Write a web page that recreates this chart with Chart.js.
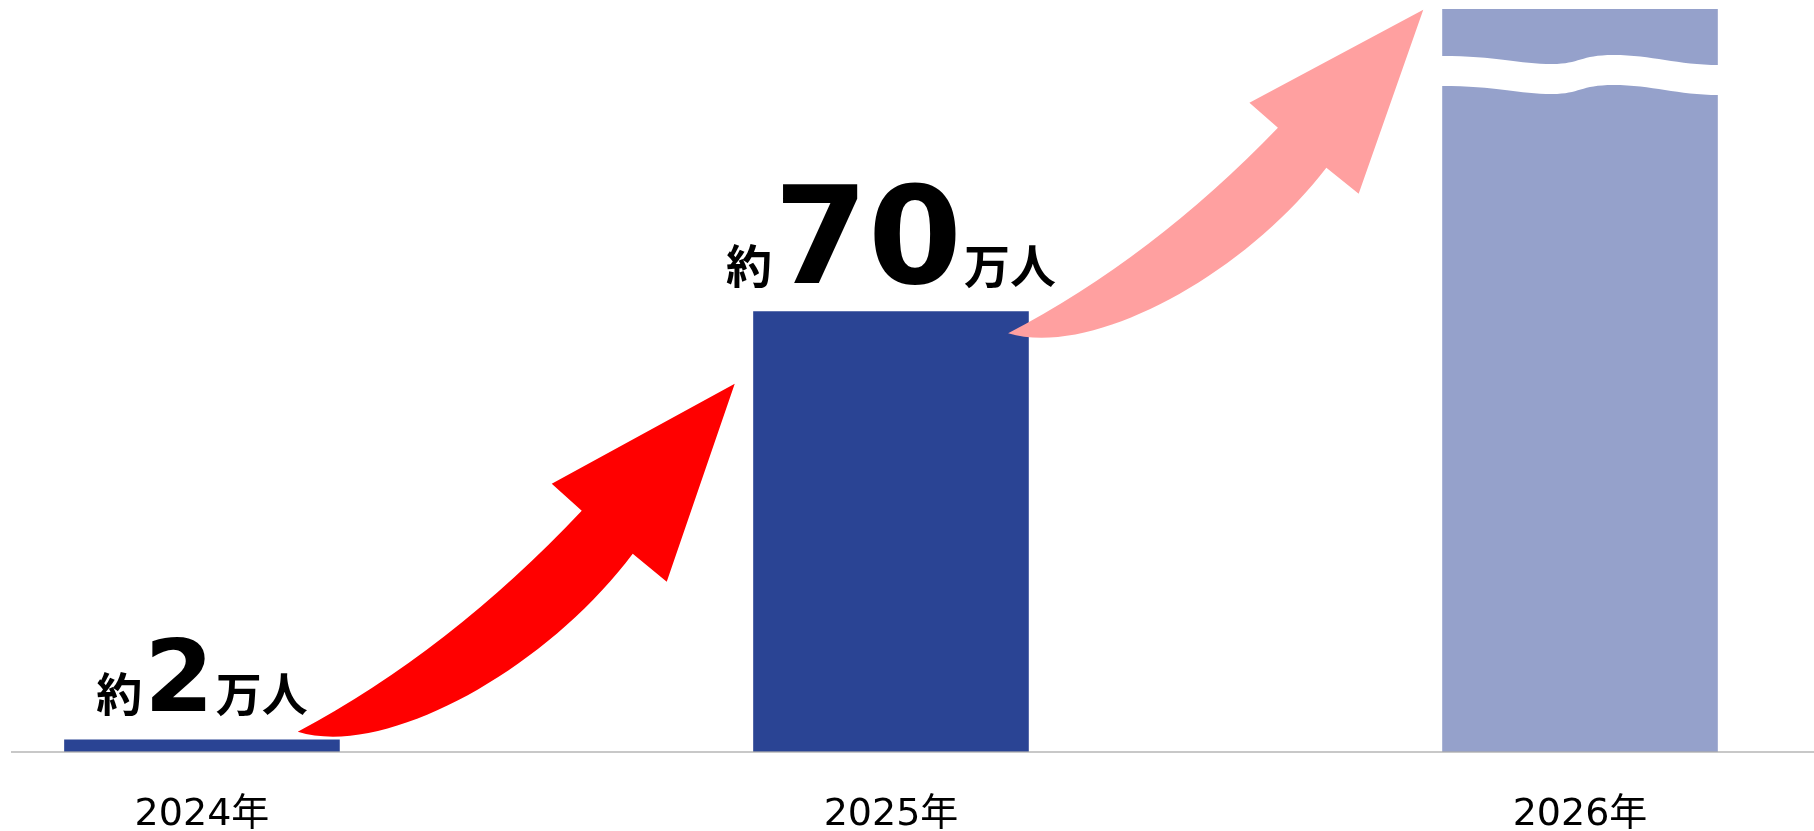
<!DOCTYPE html>
<html lang="ja">
<head>
<meta charset="utf-8">
<title>利用者数の推移</title>
<script src="https://cdn.jsdelivr.net/npm/chart.js@4.4.1/dist/chart.umd.min.js"></script>
<style>
  html, body { margin: 0; padding: 0; background: #fff; }
  canvas { display: block; }
</style>
</head>
<body>
<canvas id="usersChart" width="1814" height="831"></canvas>
<script>
// categories and values (万人). 2026 runs past the top of the scale, so it gets a break mark
const years = ["2024年", "2025年", "2026年"];
const users = [2, 70, 118];
const labelled = [true, true, false];

const barColors = ["#2a4494", "#2a4494", "#95a1cb"];
const jpFont = "'Noto Sans CJK JP', 'Noto Sans', sans-serif";
const numFont = "'DejaVu Sans', 'Noto Sans', sans-serif";

// "約 N 万人" labels above the bars, the number set larger than the rest
const valueLabels = {
  id: 'valueLabels',
  afterDatasetsDraw(chart, args, opts) {
    const { ctx } = chart;
    const bars = chart.getDatasetMeta(0).data;
    ctx.save();
    ctx.fillStyle = '#000';
    ctx.textAlign = 'left';
    ctx.textBaseline = 'alphabetic';
    bars.forEach((bar, i) => {
      if (!labelled[i]) return;
      const parts = [
        { text: '約', font: `bold ${opts.unitSize}px ${jpFont}` },
        { text: String(users[i]), font: `bold ${opts.numberSizes[i]}px ${numFont}` },
        { text: '万人', font: `bold ${opts.unitSize}px ${jpFont}` },
      ];
      let total = 0;
      parts.forEach(p => {
        ctx.font = p.font;
        p.w = ctx.measureText(p.text).width;
        total += p.w;
      });
      total += opts.gap * (parts.length - 1);
      let x = bar.x - total / 2;
      const y = bar.y - opts.lift;
      parts.forEach(p => {
        ctx.font = p.font;
        ctx.fillText(p.text, x, y);
        x += p.w + opts.gap;
      });
    });
    ctx.restore();
  }
};

// curved growth arrows between the bars
function arrowPath(ctx, x0, y0, sx, sy) {
  const p = (dx, dy) => [x0 + dx * sx, y0 + dy * sy];
  ctx.beginPath();
  ctx.moveTo(...p(0, 0));
  ctx.quadraticCurveTo(...p(152, -81), ...p(284, -221));
  ctx.lineTo(...p(254, -248));
  ctx.lineTo(...p(437, -348));
  ctx.lineTo(...p(369, -150));
  ctx.lineTo(...p(335, -178));
  ctx.bezierCurveTo(...p(248, -62), ...p(88, 27), ...p(0, 0));
  ctx.closePath();
}

const growthArrows = {
  id: 'growthArrows',
  afterDatasetsDraw(chart, args, opts) {
    const { ctx, scales: { x, y } } = chart;
    ctx.save();
    opts.arrows.forEach(a => {
      arrowPath(ctx, x.getPixelForValue(a.from[0]), y.getPixelForValue(a.from[1]), a.sx, a.sy);
      ctx.fillStyle = a.color;
      ctx.fill();
    });
    ctx.restore();
  }
};

// wavy white band across the last bar (axis break)
const barBreak = {
  id: 'barBreak',
  afterDatasetsDraw(chart, args, opts) {
    const bar = chart.getDatasetMeta(0).data[opts.index];
    if (!bar) return;
    const { ctx } = chart;
    const left = bar.x - bar.width / 2 - 1;
    const right = bar.x + bar.width / 2 + 1;
    const w = right - left;
    const t = bar.y + opts.offset;
    const h = opts.thickness;
    ctx.save();
    ctx.beginPath();
    ctx.moveTo(left, t);
    ctx.bezierCurveTo(left + 0.2 * w, t, left + 0.28 * w, t + 8, left + 0.4 * w, t + 8);
    ctx.bezierCurveTo(left + 0.5 * w, t + 8, left + 0.5 * w, t - 1, left + 0.62 * w, t - 1);
    ctx.bezierCurveTo(left + 0.76 * w, t - 1, left + 0.85 * w, t + 9, right, t + 9);
    ctx.lineTo(right, t + 9 + h);
    ctx.bezierCurveTo(left + 0.85 * w, t + 9 + h, left + 0.76 * w, t - 1 + h, left + 0.62 * w, t - 1 + h);
    ctx.bezierCurveTo(left + 0.5 * w, t - 1 + h, left + 0.5 * w, t + 8 + h, left + 0.4 * w, t + 8 + h);
    ctx.bezierCurveTo(left + 0.28 * w, t + 8 + h, left + 0.2 * w, t + h, left, t + h);
    ctx.closePath();
    ctx.fillStyle = '#fff';
    ctx.fill();
    ctx.restore();
  }
};

const ctx = document.getElementById('usersChart');

new Chart(ctx, {
  type: 'bar',
  data: {
    datasets: [{
      data: users.map((v, i) => ({ x: i, y: v })),
      backgroundColor: barColors,
      borderWidth: 0,
      barPercentage: 0.4,
      categoryPercentage: 1,
    }],
  },
  plugins: [barBreak, growthArrows, valueLabels],
  options: {
    responsive: false,
    devicePixelRatio: 1,
    animation: false,
    events: [],
    layout: { padding: { left: 12, top: 9, right: 0, bottom: 0 } },
    scales: {
      x: {
        type: 'linear',
        offset: false,
        bounds: 'data',
        min: -0.2757,
        max: 2.3396,
        afterBuildTicks: scale => {
          scale.ticks = years.map((_, i) => ({ value: i }));
        },
        grid: { display: true, offset: false, drawOnChartArea: false, color: 'transparent', tickLength: 47 },
        border: { display: true, color: 'rgba(170,170,170,0.65)', width: 2, z: 1 },
        ticks: {
          padding: 0,
          color: '#000',
          font: { family: "'DejaVu Sans', 'Noto Sans CJK JP', sans-serif", size: 38, lineHeight: 0.842 },
          callback: v => years[v] ?? '',
        },
      },
      y: {
        display: false,
        min: 0,
        max: 118,
      },
    },
    plugins: {
      legend: { display: false },
      tooltip: { enabled: false },
      barBreak: { index: 2, offset: 47, thickness: 30 },
      growthArrows: {
        arrows: [
          { from: [0.139, 3.2], sx: 1, sy: 1, color: '#ff0000' },
          { from: [1.170, 66.5], sx: 0.95, sy: 0.93, color: '#ffa0a0' },
        ],
      },
      valueLabels: { unitSize: 46, numberSizes: [100, 135, 0], gap: 2, lift: 28 },
    },
  },
});
</script>
</body>
</html>
